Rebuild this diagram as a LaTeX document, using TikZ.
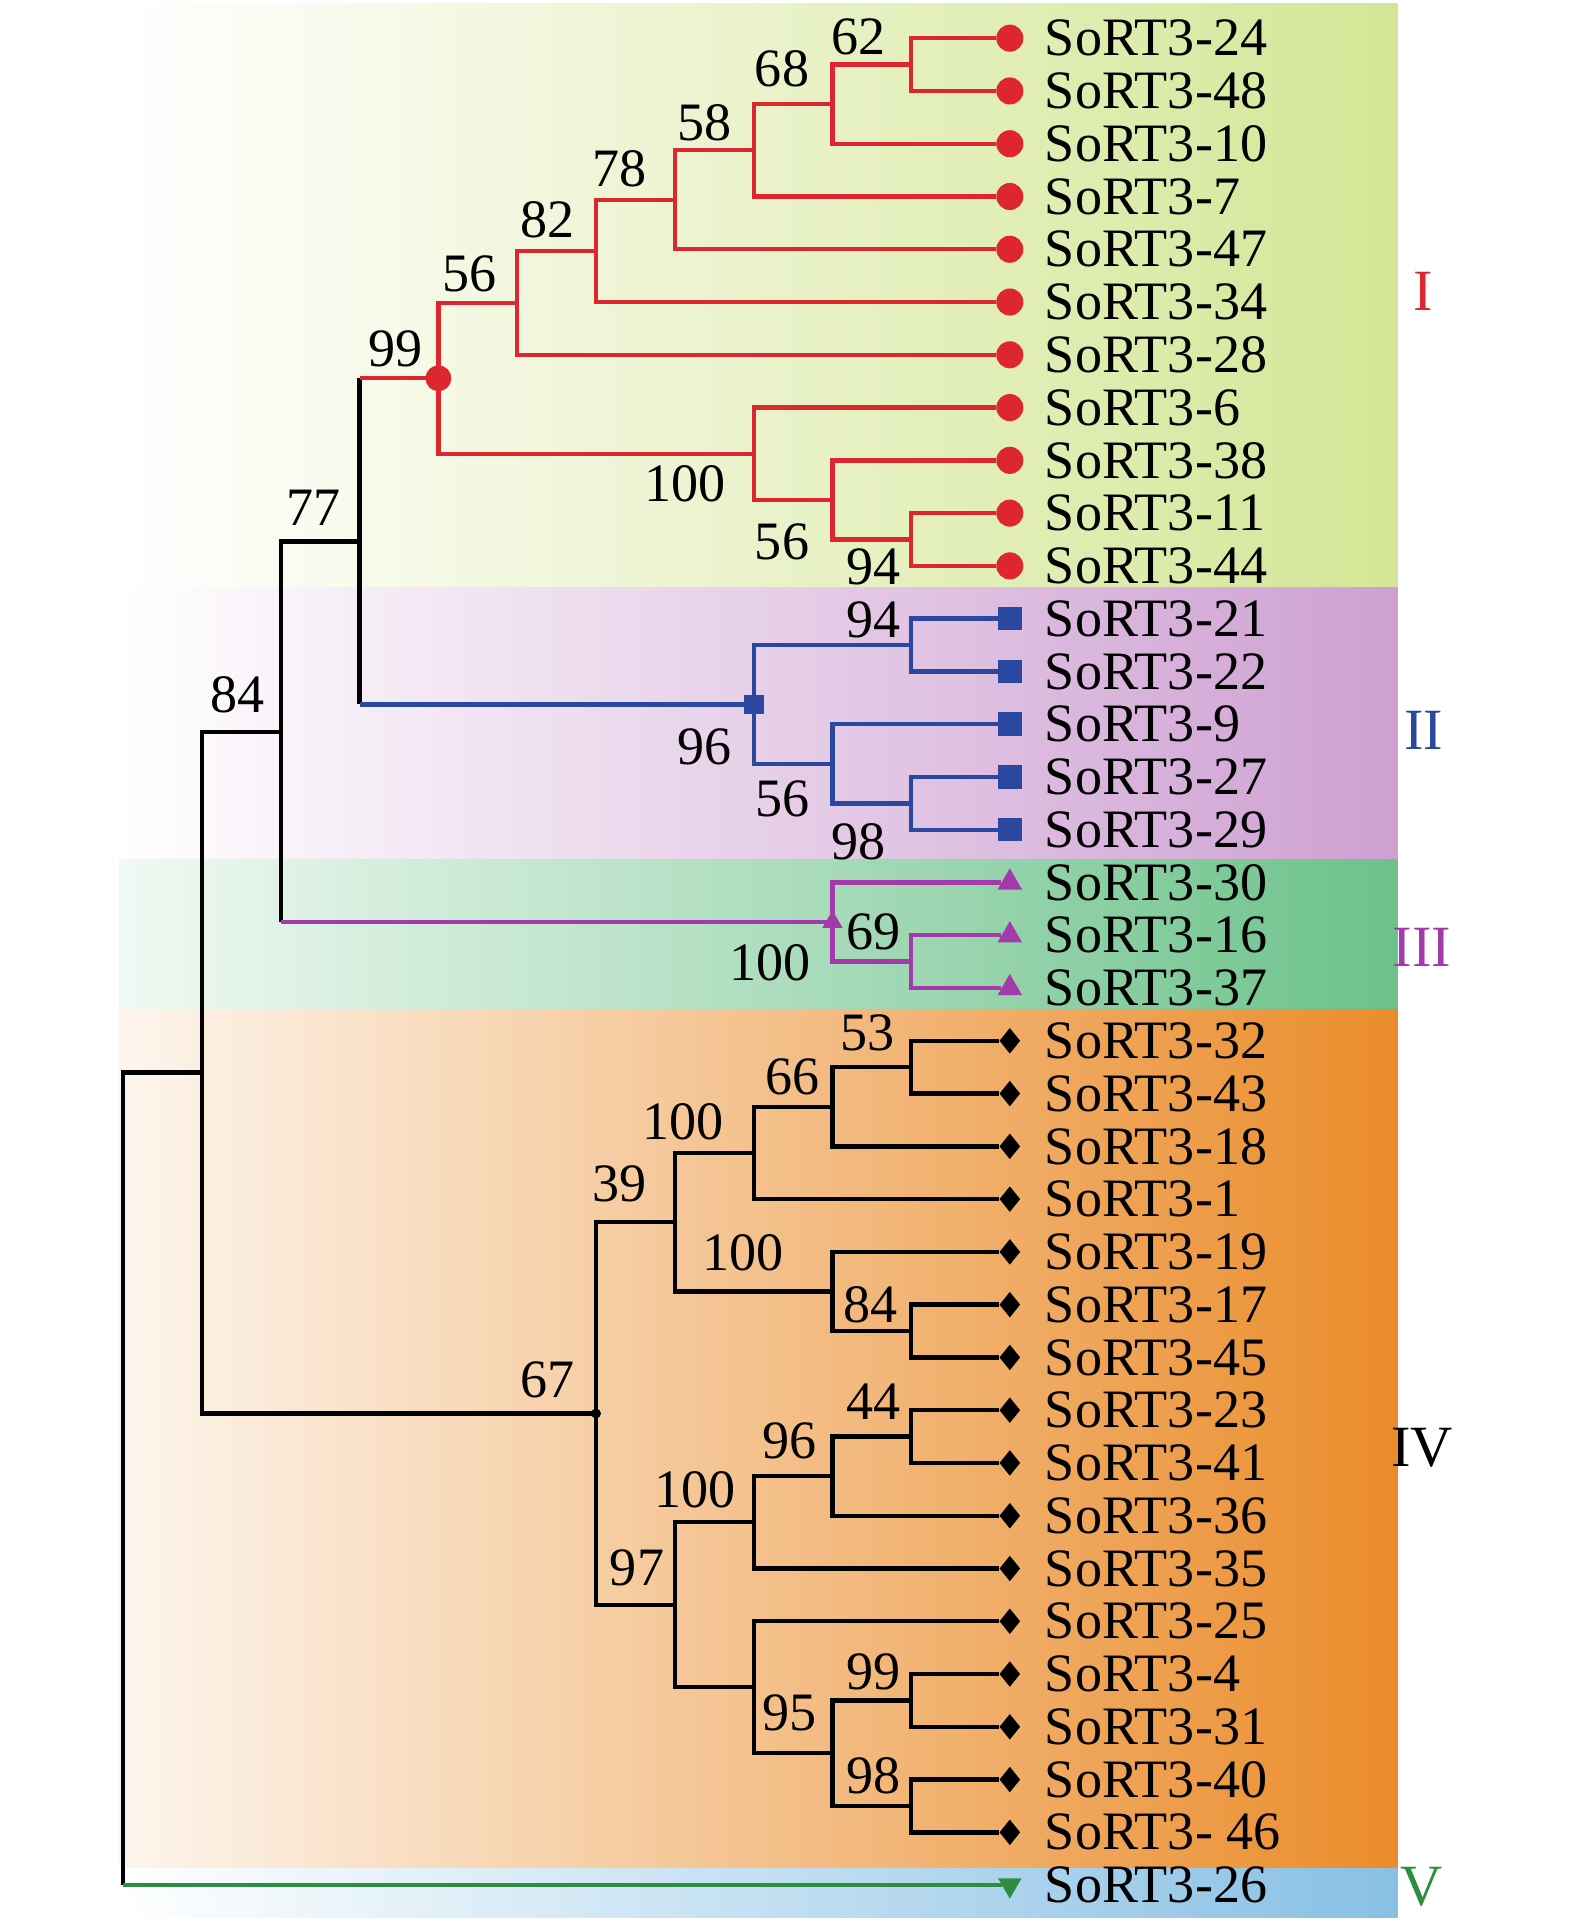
\documentclass[tikz,border=0pt]{standalone}
\usepackage{fontspec}
\setmainfont{Liberation Serif}
\usetikzlibrary{positioning,shapes.geometric}

\definecolor{cI}{RGB}{221,38,46}
\definecolor{cII}{RGB}{42,72,160}
\definecolor{cIII}{RGB}{162,58,172}
\definecolor{cV}{RGB}{44,142,62}
\definecolor{bgI}{RGB}{212,230,150}
\definecolor{bgII}{RGB}{206,160,210}
\definecolor{bgIII}{RGB}{108,194,138}
\definecolor{bgIV}{RGB}{234,140,42}
\definecolor{bgV}{RGB}{136,192,228}

\begin{document}
\begin{tikzpicture}[x=1.28cm,y=-0.857cm,
	br/.style={line width=2pt},
	leaf/.style={anchor=west,inner sep=0pt,font=\fontsize{25}{30}\selectfont},
	bs/.style={inner sep=0pt,font=\fontsize{25}{30}\selectfont},
	grp/.style={inner sep=0pt,font=\fontsize{27}{32}\selectfont},
	mI/.style={circle,fill=cI,inner sep=0pt,minimum size=4.4mm},
	mII/.style={rectangle,fill=cII,inner sep=0pt,minimum size=3.8mm},
	mIII/.style={regular polygon,regular polygon sides=3,fill=cIII,inner sep=0pt,minimum size=4.6mm},
	mIV/.style={diamond,fill=black,inner sep=0pt,minimum width=3.4mm,minimum height=4.2mm},
	mV/.style={regular polygon,regular polygon sides=3,shape border rotate=180,fill=cV,inner sep=0pt,minimum size=4.4mm}]
	\useasboundingbox (-1.5625,-0.7235) rectangle (18.422,35.87);

	% coloured bands
	\shade[left color=white,right color=bgI] (-0.05,-0.65) rectangle (16.17,10.41);
	\shade[left color=white,right color=bgII] (-0.05,10.41) rectangle (16.17,15.57);
	\shade[left color=bgIII!10,right color=bgIII] (-0.05,15.57) rectangle (16.17,18.41);
	\shade[left color=bgIV!8,middle color=bgIV!55,right color=bgIV] (-0.05,18.41) rectangle (16.17,34.68);
	\shade[left color=white,right color=bgV] (-0.05,34.68) rectangle (16.17,35.61);

	% leaves
	\node[mI] (l24) at (11.25,0) {};   \node[leaf] (t24) at (11.69,0) {SoRT3-24};
	\node[mI] (l48) at (11.25,1) {};   \node[leaf] (t48) at (11.69,1) {SoRT3-48};
	\node[mI] (l10) at (11.25,2) {};   \node[leaf] (t10) at (11.69,2) {SoRT3-10};
	\node[mI] (l7) at (11.25,3) {};    \node[leaf] (t7) at (11.69,3) {SoRT3-7};
	\node[mI] (l47) at (11.25,4) {};   \node[leaf] (t47) at (11.69,4) {SoRT3-47};
	\node[mI] (l34) at (11.25,5) {};   \node[leaf] (t34) at (11.69,5) {SoRT3-34};
	\node[mI] (l28) at (11.25,6) {};   \node[leaf] (t28) at (11.69,6) {SoRT3-28};
	\node[mI] (l6) at (11.25,7) {};    \node[leaf] (t6) at (11.69,7) {SoRT3-6};
	\node[mI] (l38) at (11.25,8) {};   \node[leaf] (t38) at (11.69,8) {SoRT3-38};
	\node[mI] (l11) at (11.25,9) {};   \node[leaf] (t11) at (11.69,9) {SoRT3-11};
	\node[mI] (l44) at (11.25,10) {};  \node[leaf] (t44) at (11.69,10) {SoRT3-44};
	\node[mII] (l21) at (11.25,11) {}; \node[leaf] (t21) at (11.69,11) {SoRT3-21};
	\node[mII] (l22) at (11.25,12) {}; \node[leaf] (t22) at (11.69,12) {SoRT3-22};
	\node[mII] (l9) at (11.25,13) {};  \node[leaf] (t9) at (11.69,13) {SoRT3-9};
	\node[mII] (l27) at (11.25,14) {}; \node[leaf] (t27) at (11.69,14) {SoRT3-27};
	\node[mII] (l29) at (11.25,15) {}; \node[leaf] (t29) at (11.69,15) {SoRT3-29};
	\node[mIII] (l30) at (11.25,16) {};\node[leaf] (t30) at (11.69,16) {SoRT3-30};
	\node[mIII] (l16) at (11.25,17) {};\node[leaf] (t16) at (11.69,17) {SoRT3-16};
	\node[mIII] (l37) at (11.25,18) {};\node[leaf] (t37) at (11.69,18) {SoRT3-37};
	\node[mIV] (l32) at (11.25,19) {}; \node[leaf] (t32) at (11.69,19) {SoRT3-32};
	\node[mIV] (l43) at (11.25,20) {}; \node[leaf] (t43) at (11.69,20) {SoRT3-43};
	\node[mIV] (l18) at (11.25,21) {}; \node[leaf] (t18) at (11.69,21) {SoRT3-18};
	\node[mIV] (l1) at (11.25,22) {};  \node[leaf] (t1) at (11.69,22) {SoRT3-1};
	\node[mIV] (l19) at (11.25,23) {}; \node[leaf] (t19) at (11.69,23) {SoRT3-19};
	\node[mIV] (l17) at (11.25,24) {}; \node[leaf] (t17) at (11.69,24) {SoRT3-17};
	\node[mIV] (l45) at (11.25,25) {}; \node[leaf] (t45) at (11.69,25) {SoRT3-45};
	\node[mIV] (l23) at (11.25,26) {}; \node[leaf] (t23) at (11.69,26) {SoRT3-23};
	\node[mIV] (l41) at (11.25,27) {}; \node[leaf] (t41) at (11.69,27) {SoRT3-41};
	\node[mIV] (l36) at (11.25,28) {}; \node[leaf] (t36) at (11.69,28) {SoRT3-36};
	\node[mIV] (l35) at (11.25,29) {}; \node[leaf] (t35) at (11.69,29) {SoRT3-35};
	\node[mIV] (l25) at (11.25,30) {}; \node[leaf] (t25) at (11.69,30) {SoRT3-25};
	\node[mIV] (l4) at (11.25,31) {};  \node[leaf] (t4) at (11.69,31) {SoRT3-4};
	\node[mIV] (l31) at (11.25,32) {}; \node[leaf] (t31) at (11.69,32) {SoRT3-31};
	\node[mIV] (l40) at (11.25,33) {}; \node[leaf] (t40) at (11.69,33) {SoRT3-40};
	\node[mIV] (l46) at (11.25,34) {}; \node[leaf] (t46) at (11.69,34) {SoRT3- 46};
	\node[mV] (l26) at (11.25,35) {};  \node[leaf] (t26) at (11.69,35) {SoRT3-26};

	% inner nodes
	\coordinate (a62) at (10,0.5);
	\coordinate (a68) at (9,1.25);
	\coordinate (a58) at (8,2.125);
	\coordinate (a78) at (7,3.0625);
	\coordinate (a82) at (6,4.0313);
	\coordinate (a56) at (5,5.0156);
	\coordinate (a94) at (10,9.5);
	\coordinate (a56b) at (9,8.75);
	\coordinate (a100) at (8,7.875);
	\coordinate (a99) at (4,6.4453);
	\coordinate (b94) at (10,11.5);
	\coordinate (b98) at (10,14.5);
	\coordinate (b56) at (9,13.75);
	\coordinate (b96) at (8,12.625);
	\coordinate (r77) at (3,9.5352);
	\coordinate (c69) at (10,17.5);
	\coordinate (c100) at (9,16.75);
	\coordinate (r84) at (2,13.1426);
	\coordinate (d53) at (10,19.5);
	\coordinate (d66) at (9,20.25);
	\coordinate (d100) at (8,21.125);
	\coordinate (d84) at (10,24.5);
	\coordinate (d100b) at (9,23.75);
	\coordinate (d39) at (7,22.4375);
	\coordinate (d44) at (10,26.5);
	\coordinate (d96) at (9,27.25);
	\coordinate (d100c) at (8,28.125);
	\coordinate (d99) at (10,31.5);
	\coordinate (d98) at (10,33.5);
	\coordinate (d95) at (9,32.5);
	\coordinate (d25) at (8,31.25);
	\coordinate (d97) at (7,29.6875);
	\coordinate (d67) at (6,26.0625);
	\coordinate (r1) at (1,19.6026);
	\coordinate (r0) at (0,27.3);

	% clade I
	\draw[br,cI] (a62) |- (l24) (a62) |- (l48) (a68) |- (a62) (a68) |- (l10)
		(a58) |- (a68) (a58) |- (l7) (a78) |- (a58) (a78) |- (l47)
		(a82) |- (a78) (a82) |- (l34) (a56) |- (a82) (a56) |- (l28)
		(a99) |- (a56) (a99) |- (a100) (a100) |- (l6) (a100) |- (a56b)
		(a56b) |- (l38) (a56b) |- (a94) (a94) |- (l11) (a94) |- (l44);
	% clade II
	\draw[br,cII] (b94) |- (l21) (b94) |- (l22) (b96) |- (b94) (b96) |- (b56)
		(b56) |- (l9) (b56) |- (b98) (b98) |- (l27) (b98) |- (l29);
	% clade III
	\draw[br,cIII] (c100) |- (l30) (c100) |- (c69) (c69) |- (l16) (c69) |- (l37);
	% clade IV
	\draw[br] (d53) |- (l32) (d53) |- (l43) (d66) |- (d53) (d66) |- (l18)
		(d100) |- (d66) (d100) |- (l1) (d84) |- (l17) (d84) |- (l45)
		(d100b) |- (l19) (d100b) |- (d84) (d39) |- (d100) (d39) |- (d100b)
		(d44) |- (l23) (d44) |- (l41) (d96) |- (d44) (d96) |- (l36)
		(d100c) |- (d96) (d100c) |- (l35) (d99) |- (l4) (d99) |- (l31)
		(d98) |- (l40) (d98) |- (l46) (d95) |- (d99) (d95) |- (d98)
		(d25) |- (l25) (d25) |- (d95) (d97) |- (d100c) (d97) |- (d25)
		(d67) |- (d39) (d67) |- (d97);
	% backbone
	\draw[br] (a99 -| r77) -- (b96 -| r77);
	\draw[br,cI] (a99 -| r77) -- (a99);
	\draw[br,cII] (b96 -| r77) -- (b96);
	\draw[br] (r84) |- (r77) (r84) -- (c100 -| r84);
	\draw[br,cIII] (c100 -| r84) -- (c100);
	\draw[br] (r1) |- (r84) (r1) |- (d67);
	\draw[br] (r0) |- (r1) (r0) -- (r0 |- l26);
	\draw[br,cV] (r0 |- l26) -- (l26);

	\node[circle,fill=cI,inner sep=0pt,minimum size=4.2mm] (m99) at (a99) {};
	\node[rectangle,fill=cII,inner sep=0pt,minimum size=3.2mm] (m96) at (b96) {};
	\node[regular polygon,regular polygon sides=3,fill=cIII,inner sep=0pt,minimum size=3.8mm] (m100) at (c100) {};
	\node[circle,fill=black,inner sep=0pt,minimum size=1.6mm] (m67) at (d67) {};

	% bootstrap values
	\node[bs] (s62) at (9.33,-0.03) {62};
	\node[bs] (s68) at (8.36,0.58) {68};
	\node[bs] (s58) at (7.38,1.60) {58};
	\node[bs] (s78) at (6.30,2.47) {78};
	\node[bs] (s82) at (5.39,3.45) {82};
	\node[bs] (s56) at (4.40,4.46) {56};
	\node[bs] (s99) at (3.45,5.88) {99};
	\node[bs] (s100) at (7.13,8.45) {100};
	\node[bs] (s56b) at (8.36,9.54) {56};
	\node[bs] (s94) at (9.52,10.01) {94};
	\node[bs] (s77) at (2.41,8.89) {77};
	\node[bs] (s84) at (1.45,12.45) {84};
	\node[bs] (s94b) at (9.52,11.03) {94};
	\node[bs] (s96) at (7.38,13.43) {96};
	\node[bs] (s56c) at (8.37,14.41) {56};
	\node[bs] (s98) at (9.33,15.23) {98};
	\node[bs] (s69) at (9.52,16.93) {69};
	\node[bs] (s100b) at (8.21,17.53) {100};
	\node[bs] (s53) at (9.45,18.85) {53};
	\node[bs] (s66) at (8.49,19.69) {66};
	\node[bs] (s100c) at (7.10,20.53) {100};
	\node[bs] (s39) at (6.30,21.72) {39};
	\node[bs] (s100d) at (7.86,23.01) {100};
	\node[bs] (s84b) at (9.48,24.0) {84};
	\node[bs] (s67) at (5.39,25.43) {67};
	\node[bs] (s44) at (9.52,25.83) {44};
	\node[bs] (s96b) at (8.46,26.58) {96};
	\node[bs] (s100e) at (7.26,27.51) {100};
	\node[bs] (s97) at (6.52,28.98) {97};
	\node[bs] (s99b) at (9.52,30.95) {99};
	\node[bs] (s95) at (8.46,31.73) {95};
	\node[bs] (s98b) at (9.52,32.92) {98};

	% group names
	\node[grp,text=cI] (gI) at (16.5,4.79) {I};
	\node[grp,text=cII] (gII) at (16.5,13.11) {II};
	\node[grp,text=cIII] (gIII) at (16.48,17.22) {III};
	\node[grp] (gIV) at (16.48,26.72) {IV};
	\node[grp,text=cV] (gV) at (16.48,35.04) {V};
\end{tikzpicture}
\end{document}
